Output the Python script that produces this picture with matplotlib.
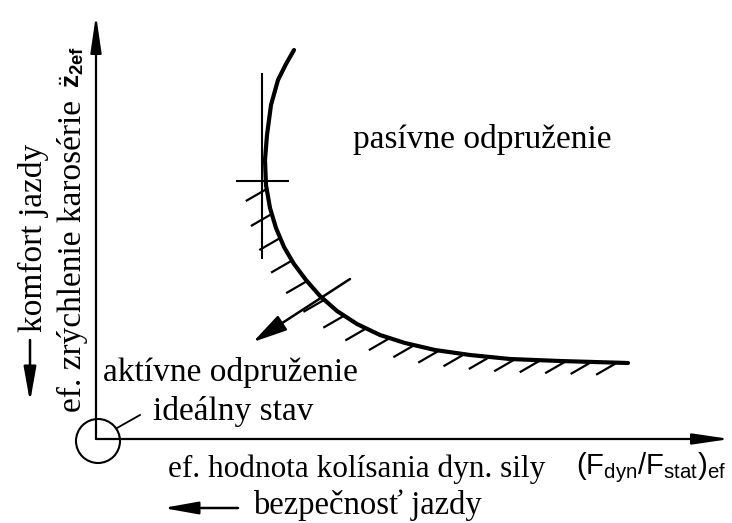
import numpy as np
import matplotlib.pyplot as plt

plt.rcParams['mathtext.fontset'] = 'custom'
plt.rcParams['mathtext.rm'] = 'Liberation Sans'
plt.rcParams['mathtext.bf'] = 'Liberation Sans:bold'

# hranica pasivneho odpruzenia (pixely obrazka, y dole)
curve_x = [294, 286, 278, 271, 267, 265, 266, 270, 276, 284, 294, 306, 320, 337,
           357, 380, 405, 435, 470, 510, 560, 628]
curve_y = [50, 64, 80, 105, 135, 160, 185, 208, 228, 247, 264, 280, 296, 311,
           324, 335, 343, 350, 355, 359, 361, 363]

origin = (96, 439)
x_axis_end = 730
y_axis_end = 15

# dotycnice vo vrchole krivky
tangent_v = ([262, 262], [74, 258])
tangent_h = ([237, 288], [181, 181])

# sipka smerom k aktivnemu odpruzeniu
arrow_from = (350, 279)
arrow_to = (253, 342)

hatch_start = 189     # y, kde zacina srafovanie
hatch_step = 25.5
hatch_len = 23
hatch_angle = 30      # stupne pod vodorovnou, smerom dolava

serif = 'Liberation Serif'

fig = plt.figure(figsize=(7.32, 5.23), dpi=100)
ax = fig.add_axes([0, 0, 1, 1])
ax.set_xlim(0, 732)
ax.set_ylim(523, 0)
ax.axis('off')


def arrow(xy, xytext, lw=1.6, hl=1.5, hw=0.22, ms=15):
    ax.annotate('', xy=xy, xytext=xytext,
                arrowprops=dict(arrowstyle=f'-|>,head_length={hl},head_width={hw}',
                                lw=lw, color='black', shrinkA=0, shrinkB=0,
                                mutation_scale=ms))


# osi
arrow((origin[0], y_axis_end), origin)
arrow((x_axis_end, origin[1]), origin)
ax.add_patch(plt.Circle((98, 441), 22, fill=False, lw=1.5, color='black'))
ax.plot([117, 140], [428, 415], color='black', lw=1.3)

# krivka
ax.plot(curve_x, curve_y, color='black', lw=3.0, solid_capstyle='round')
ax.plot(*tangent_v, color='black', lw=1.5)
ax.plot(*tangent_h, color='black', lw=1.5)

# srafovanie pozdlz krivky
cx = np.array(curve_x, float)
cy = np.array(curve_y, float)
seg = np.hypot(np.diff(cx), np.diff(cy))
s = np.concatenate([[0], np.cumsum(seg)])
s0 = np.interp(hatch_start, cy[5:], s[5:])
a = np.radians(hatch_angle)
for si in np.arange(s0, s[-1] - 10, hatch_step):
    px = np.interp(si, s, cx)
    py = np.interp(si, s, cy)
    ax.plot([px, px - hatch_len * np.cos(a)], [py, py + hatch_len * np.sin(a)],
            color='black', lw=1.6)

arrow(arrow_to, arrow_from, lw=1.8, hl=1.4, hw=0.35, ms=15)

# texty
ax.text(353, 148, 'pasívne odpruženie', family=serif, fontsize=24)
ax.text(103, 381, 'aktívne odpruženie', family=serif, fontsize=24)
ax.text(153, 420, 'ideálny stav', family=serif, fontsize=24)
ax.text(168, 477, 'ef. hodnota kolísania dyn. sily', family=serif, fontsize=22.5)
ax.text(576, 474, r'$(\mathrm{F}_{\mathrm{dyn}}/\mathrm{F}_{\mathrm{stat}})_{\mathrm{ef}}$',
        fontsize=21)
ax.text(253, 514, 'bezpečnosť jazdy', family=serif, fontsize=23.5)
arrow((163, 508), (238, 508), lw=1.8, hl=1.4, hw=0.25, ms=15)

ax.text(81, 412, 'ef. zrýchlenie karosérie', family=serif, fontsize=24,
        rotation=90, rotation_mode='anchor', ha='left', va='baseline')
ax.text(79, 88, r'$\ddot{\mathbf{z}}_{\mathbf{2ef}}$', fontsize=19,
        rotation=90, rotation_mode='anchor', ha='left', va='baseline')
ax.text(42, 332, 'komfort jazdy', family=serif, fontsize=24,
        rotation=90, rotation_mode='anchor', ha='left', va='baseline')
arrow((30, 402), (30, 340), lw=1.8, hl=1.4, hw=0.25, ms=15)

fig.savefig('out.png', dpi=100)
